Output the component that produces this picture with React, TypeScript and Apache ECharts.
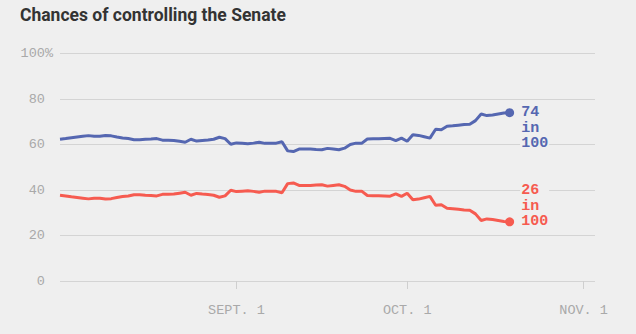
import React, { useEffect, useRef } from "react";
import * as echarts from "echarts";

const startDate = "2016-08-01";
const endDate = "2016-11-03";

const demValues = [
  62.3, 62.6, 63.0, 63.3, 63.6, 63.9, 63.6, 63.6, 64.0, 63.8,
  63.3, 62.9, 62.6, 62.1, 62.1, 62.3, 62.4, 62.6, 61.9, 61.9,
  61.8, 61.4, 61.0, 62.3, 61.5, 61.8, 62.0, 62.3, 63.2, 62.6,
  60.1, 60.7, 60.5, 60.3, 60.6, 61.0, 60.5, 60.5, 60.6, 61.2,
  57.2, 56.9, 58.0, 58.0, 58.0, 57.8, 57.7, 58.3, 58.0, 57.7,
  58.4, 60.0, 60.6, 60.5, 62.4, 62.5, 62.5, 62.6, 62.7, 61.7,
  62.8, 61.4, 64.3, 64.0, 63.4, 62.8, 66.7, 66.5, 68.0, 68.2,
  68.5, 68.8, 68.9, 70.5, 73.4, 72.7, 73.0, 73.4, 73.8, 74.0,
];

const repValues = [
  37.7, 37.4, 37.0, 36.7, 36.4, 36.1, 36.4, 36.4, 36.0, 36.2,
  36.7, 37.1, 37.4, 37.9, 37.9, 37.7, 37.6, 37.4, 38.1, 38.1,
  38.2, 38.6, 39.0, 37.7, 38.5, 38.2, 38.0, 37.7, 36.8, 37.4,
  39.9, 39.3, 39.5, 39.7, 39.4, 39.0, 39.5, 39.5, 39.4, 38.8,
  42.8, 43.1, 42.0, 42.0, 42.0, 42.2, 42.3, 41.7, 42.0, 42.3,
  41.6, 40.0, 39.4, 39.5, 37.6, 37.5, 37.5, 37.4, 37.3, 38.3,
  37.2, 38.6, 35.7, 36.0, 36.6, 37.2, 33.3, 33.5, 32.0, 31.8,
  31.5, 31.2, 31.1, 29.5, 26.6, 27.3, 27.0, 26.6, 26.2, 26.0,
];

const demLabel = "74\nin\n100";
const repLabel = "26\nin\n100";

const xTickLabels: Record<string, string> = {
  "09-01": "SEPT. 1",
  "10-01": "OCT. 1",
  "11-01": "NOV. 1",
};

const yTicks = [0, 20, 40, 60, 80, 100];

function buildDates(start: string, end: string): string[] {
  const out: string[] = [];
  const d = new Date(start + "T00:00:00Z");
  const e = new Date(end + "T00:00:00Z");
  while (d.getTime() <= e.getTime()) {
    out.push(d.toISOString().slice(0, 10));
    d.setUTCDate(d.getUTCDate() + 1);
  }
  return out;
}

const BG = "#efefef";
const BLUE = "#5567b1";
const RED = "#f65b50";
const MONO = "'Liberation Mono', 'DejaVu Sans Mono', monospace";

export default function App() {
  const ref = useRef<HTMLDivElement>(null);

  useEffect(() => {
    document.body.style.margin = "0";
    if (!ref.current) return;
    const chart = echarts.init(ref.current, undefined, { renderer: "svg" });
    const dates = buildDates(startDate, endDate);

    const isTick = (_i: number, v: string) => xTickLabels[v.slice(5)] !== undefined;

    const withEnd = (vals: number[], color: string, text: string, dy: number) =>
      vals.map((v, i) =>
        i === vals.length - 1
          ? {
              value: v,
              label: {
                show: true,
                position: "right",
                distance: 6,
                offset: [0, dy],
                formatter: text,
                color,
                fontFamily: MONO,
                fontWeight: "bold",
                fontSize: 15,
                lineHeight: 15.5,
                backgroundColor: BG,
                padding: [0, 1],
              },
            }
          : v
      );

    const lastIdx = demValues.length - 1;

    chart.setOption({
      animation: false,
      backgroundColor: BG,
      title: {
        text: "Chances of controlling the Senate",
        left: 20,
        top: 6,
        padding: 0,
        textStyle: {
          fontFamily: "Roboto, 'Noto Sans', sans-serif",
          fontWeight: "bold",
          fontSize: 17.5,
          color: "#333333",
        },
      },
      grid: { left: 60, right: 41, top: 53.5, bottom: 53, containLabel: false },
      xAxis: {
        type: "category",
        boundaryGap: false,
        data: dates,
        offset: 11,
        axisLine: { show: false },
        axisTick: {
          show: true,
          interval: isTick,
          length: 8,
          lineStyle: { color: "#cfcfcf", width: 1 },
        },
        axisLabel: {
          interval: isTick,
          formatter: (v: string) => xTickLabels[v.slice(5)] || "",
          color: "#a9a9a9",
          fontFamily: MONO,
          fontSize: 13.5,
          margin: 11,
        },
        splitLine: { show: false },
      },
      yAxis: {
        type: "value",
        min: yTicks[0],
        max: yTicks[yTicks.length - 1],
        interval: 20,
        axisLine: { show: false },
        axisTick: { show: false },
        axisLabel: {
          formatter: (v: number) => (v === 100 ? "100%" : v + "\u00a0"),
          color: "#a9a9a9",
          fontFamily: MONO,
          fontSize: 13.5,
          margin: 7,
        },
        splitLine: { lineStyle: { color: "#d4d4d4", width: 1.2 } },
      },
      series: [
        {
          type: "line",
          data: withEnd(demValues, BLUE, demLabel, 15.5),
          showSymbol: true,
          symbol: "circle",
          symbolSize: (_v: any, p: any) => (p.dataIndex === lastIdx ? 9 : 0),
          itemStyle: { color: BLUE },
          lineStyle: { color: BLUE, width: 3 },
          z: 3,
        },
        {
          type: "line",
          data: withEnd(repValues, RED, repLabel, -15.5),
          showSymbol: true,
          symbol: "circle",
          symbolSize: (_v: any, p: any) => (p.dataIndex === lastIdx ? 9 : 0),
          itemStyle: { color: RED },
          lineStyle: { color: RED, width: 3 },
          z: 3,
        },
      ],
    });

    return () => chart.dispose();
  }, []);

  return <div ref={ref} style={{ width: 636, height: 334 }} />;
}
